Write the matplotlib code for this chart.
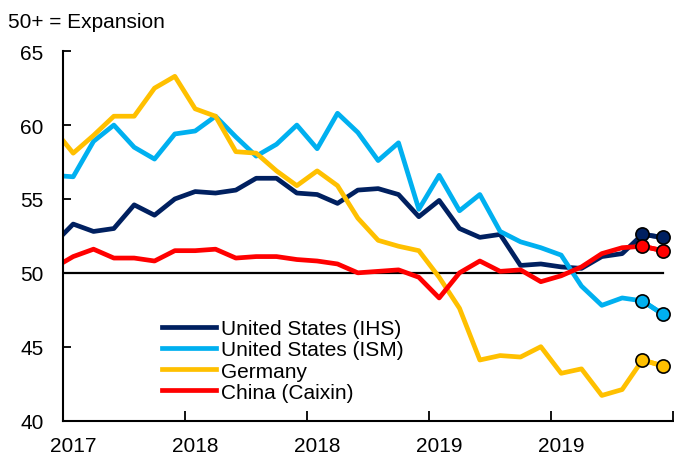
# %% PMI chart: manufacturing PMIs, Jun 2017 - Dec 2019
import numpy as np
import pandas as pd
import matplotlib
matplotlib.use('Agg')
import matplotlib.pyplot as plt

plt.rcParams['font.family'] = ['Liberation Sans', 'DejaVu Sans']

# monthly data, first month (Jun 2017) only partly visible at the left edge
months = pd.date_range('2017-06-01', '2019-12-01', freq='MS')

us_ihs  = [51.9, 53.3, 52.8, 53.0, 54.6, 53.9, 55.0, 55.5, 55.4, 55.6, 56.4,
           56.4, 55.4, 55.3, 54.7, 55.6, 55.7, 55.3, 53.8, 54.9, 53.0, 52.4,
           52.6, 50.5, 50.6, 50.4, 50.3, 51.1, 51.3, 52.6, 52.4]
us_ism  = [56.6, 56.5, 58.9, 60.0, 58.5, 57.7, 59.4, 59.6, 60.6, 59.2, 57.9,
           58.7, 60.0, 58.4, 60.8, 59.5, 57.6, 58.8, 54.3, 56.6, 54.2, 55.3,
           52.8, 52.1, 51.7, 51.2, 49.1, 47.8, 48.3, 48.1, 47.2]
germany = [59.8, 58.1, 59.3, 60.6, 60.6, 62.5, 63.3, 61.1, 60.6, 58.2, 58.1,
           56.9, 55.9, 56.9, 55.9, 53.7, 52.2, 51.8, 51.5, 49.7, 47.6, 44.1,
           44.4, 44.3, 45.0, 43.2, 43.5, 41.7, 42.1, 44.1, 43.7]
china   = [50.3, 51.1, 51.6, 51.0, 51.0, 50.8, 51.5, 51.5, 51.6, 51.0, 51.1,
           51.1, 50.9, 50.8, 50.6, 50.0, 50.1, 50.2, 49.7, 48.3, 50.0, 50.8,
           50.1, 50.2, 49.4, 49.8, 50.4, 51.3, 51.7, 51.8, 51.5]

series = [('United States (IHS)', us_ihs, '#002060'),
          ('United States (ISM)', us_ism, '#00B0F0'),
          ('Germany', germany, '#FFC000'),
          ('China (Caixin)', china, '#FF0000')]

xlabels = ['2017', '2018', '2018', '2019', '2019']
threshold = 50

# category positions: Jul 2017 = 0
x = np.arange(len(months)) - 1

# %% plot
fig = plt.figure(figsize=(6.74, 4.56), dpi=100)
ax = fig.add_axes([0.0935, 0.0755, 0.905, 0.810])

ax.plot([x[0], x[-1]], [threshold, threshold], color='black', lw=1.6, zorder=1)

for name, vals, col in series:
    ax.plot(x, vals, color=col, lw=3.4, label=name, zorder=2)
    ax.plot(x[-2:], vals[-2:], color=col, lw=3.4, marker='o', markersize=9.5,
            markeredgecolor='black', markeredgewidth=1.2, zorder=3,
            clip_on=False)

ax.set_xlim(-0.5, x[-1] + 0.5)
ax.set_ylim(40, 65)
ax.set_yticks([40, 45, 50, 55, 60, 65])

# tick marks between categories, labels on categories
ax.set_xticks(np.arange(-0.5, x[-1] + 1, 6))
ax.set_xticklabels([])
ax.set_xticks(np.arange(0, 25, 6), minor=True)
ax.set_xticklabels(xlabels, minor=True)
ax.tick_params(axis='x', which='major', direction='in', length=7, width=1.3)
ax.tick_params(axis='x', which='minor', length=0, pad=11, labelsize=15)
ax.tick_params(axis='y', direction='in', length=6, width=1.3, pad=14,
               labelsize=15)

ax.spines['top'].set_visible(False)
ax.spines['right'].set_visible(False)
ax.spines['left'].set_linewidth(1.5)
ax.spines['bottom'].set_linewidth(1.5)

ax.legend(loc='upper left', bbox_to_anchor=(0.162, 0.274), frameon=False,
          fontsize=15, handlelength=2.6, handletextpad=0.25,
          labelspacing=0.1, borderpad=0, borderaxespad=0)

fig.text(0.012, 0.950, '50+ = Expansion', fontsize=15, va='center', ha='left')

plt.savefig('out.png', dpi=100)
